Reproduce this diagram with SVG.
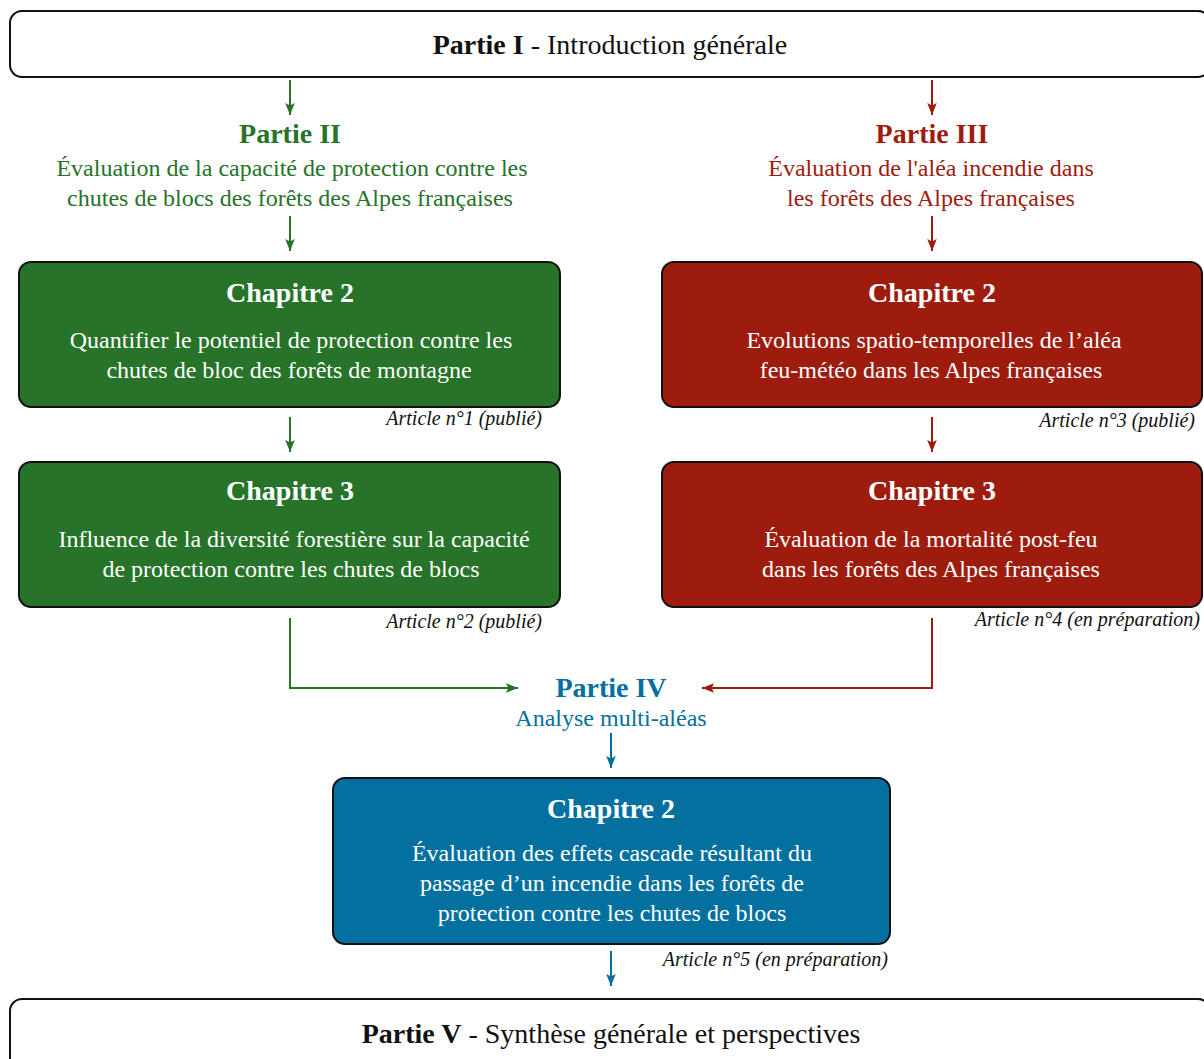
<svg xmlns="http://www.w3.org/2000/svg" width="1204" height="1059" viewBox="0 0 1204 1059">
<defs>
<style>
text{text-anchor:middle}
.frame{fill:#fff;stroke:#111;stroke-width:2}
.box{stroke:#111;stroke-width:2}
.g{fill:#267329}.r{fill:#9e1c0e}.b{fill:#03709f}
.tg{fill:#267329}.tr{fill:#9e1c0e}.tb{fill:#03709f}
.big{font-size:28px;fill:#111}
.head{font-size:28px;font-weight:bold}
.body{font-size:24px}
.title{font-size:28px;font-weight:bold;fill:#fff}
.wt{font-size:24px;fill:#fff}
.art{font-size:20px;font-style:italic;text-anchor:end;fill:#111}
.cg{stroke:#267329;stroke-width:2;fill:none}
.cr{stroke:#9e1c0e;stroke-width:2;fill:none}
.cb{stroke:#03709f;stroke-width:2;fill:none}
</style>
<marker id="ag" viewBox="0 0 10 10" refX="10" refY="5" markerWidth="6" markerHeight="6" orient="auto" markerUnits="strokeWidth"><path d="M0,1 L10,5 L0,9 L2,5 z" fill="#267329"/></marker>
<marker id="ar" viewBox="0 0 10 10" refX="10" refY="5" markerWidth="6" markerHeight="6" orient="auto" markerUnits="strokeWidth"><path d="M0,1 L10,5 L0,9 L2,5 z" fill="#9e1c0e"/></marker>
<marker id="ab" viewBox="0 0 10 10" refX="10" refY="5" markerWidth="6" markerHeight="6" orient="auto" markerUnits="strokeWidth"><path d="M0,1 L10,5 L0,9 L2,5 z" fill="#03709f"/></marker>
</defs>
<rect width="1204" height="1059" fill="#fff"/>

<g id="connectors">
<path class="cg" d="M290,80 V115" marker-end="url(#ag)"/>
<path class="cr" d="M932,80 V115" marker-end="url(#ar)"/>
<path class="cg" d="M290,216 V251" marker-end="url(#ag)"/>
<path class="cr" d="M932,216 V251" marker-end="url(#ar)"/>
<path class="cg" d="M290,417 V452" marker-end="url(#ag)"/>
<path class="cr" d="M932,417 V452" marker-end="url(#ar)"/>
<path class="cg" d="M290,618 V688 H518" marker-end="url(#ag)"/>
<path class="cr" d="M932,618 V688 H702" marker-end="url(#ar)"/>
<path class="cb" d="M611,733 V768" marker-end="url(#ab)"/>
<path class="cb" d="M611,951 V986" marker-end="url(#ab)"/>
</g>

<g font-family="Times New Roman, Liberation Serif, serif">
<g id="partie1">
<rect class="frame" x="10" y="11" width="1200" height="66" rx="12"/>
<text class="big" x="610" y="54"><tspan font-weight="bold">Partie I</tspan> - Introduction générale</text>
</g>

<g id="partie2">
<text class="head tg" x="290" y="143">Partie II</text>
<text class="body tg" x="292" y="176">Évaluation de la capacité de protection contre les</text>
<text class="body tg" x="290" y="206">chutes de blocs des forêts des Alpes françaises</text>
</g>

<g id="partie3">
<text class="head tr" x="932" y="143">Partie III</text>
<text class="body tr" x="931" y="176">Évaluation de l'aléa incendie dans</text>
<text class="body tr" x="931" y="206">les forêts des Alpes françaises</text>
</g>

<g id="g-ch2">
<rect class="box g" x="19" y="262" width="541" height="145" rx="12"/>
<text class="title" x="290" y="302">Chapitre 2</text>
<text class="wt" x="291" y="348">Quantifier le potentiel de protection contre les</text>
<text class="wt" x="289" y="378">chutes de bloc des forêts de montagne</text>
<text class="art" x="542" y="425">Article n°1 (publié)</text>
</g>

<g id="g-ch3">
<rect class="box g" x="19" y="462" width="541" height="145" rx="12"/>
<text class="title" x="290" y="500">Chapitre 3</text>
<text class="wt" x="294" y="547">Influence de la diversité forestière sur la capacité</text>
<text class="wt" x="291" y="577">de protection contre les chutes de blocs</text>
<text class="art" x="542" y="628">Article n°2 (publié)</text>
</g>

<g id="r-ch2">
<rect class="box r" x="662" y="262" width="540" height="145" rx="12"/>
<text class="title" x="932" y="302">Chapitre 2</text>
<text class="wt" x="934" y="348">Evolutions spatio-temporelles de l’aléa</text>
<text class="wt" x="931" y="378">feu-météo dans les Alpes françaises</text>
<text class="art" x="1195" y="427">Article n°3 (publié)</text>
</g>

<g id="r-ch3">
<rect class="box r" x="662" y="462" width="540" height="145" rx="12"/>
<text class="title" x="932" y="500">Chapitre 3</text>
<text class="wt" x="931" y="547">Évaluation de la mortalité post-feu</text>
<text class="wt" x="931" y="577">dans les forêts des Alpes françaises</text>
<text class="art" x="1200" y="626">Article n°4 (en préparation)</text>
</g>

<g id="partie4">
<text class="head tb" x="611" y="697">Partie IV</text>
<text class="body tb" x="611" y="726">Analyse multi-aléas</text>
</g>

<g id="b-ch2">
<rect class="box b" x="333" y="778" width="557" height="166" rx="12"/>
<text class="title" x="611" y="818">Chapitre 2</text>
<text class="wt" x="612" y="861">Évaluation des effets cascade résultant du</text>
<text class="wt" x="612" y="891">passage d’un incendie dans les forêts de</text>
<text class="wt" x="612" y="921">protection contre les chutes de blocs</text>
<text class="art" x="888" y="966">Article n°5 (en préparation)</text>
</g>

<g id="partie5">
<rect class="frame" x="10" y="999" width="1200" height="80" rx="12"/>
<text class="big" x="611" y="1043"><tspan font-weight="bold">Partie V</tspan> - Synthèse générale et perspectives</text>
</g>
</g>
</svg>
